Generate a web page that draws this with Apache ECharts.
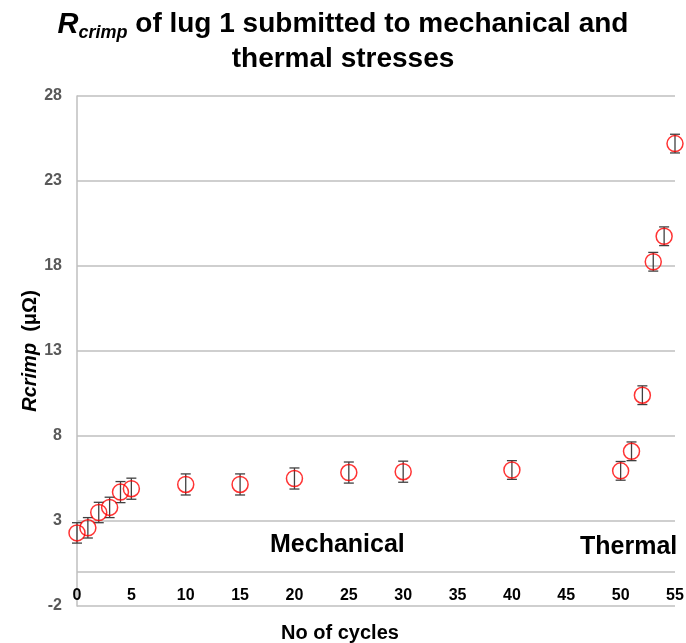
<!DOCTYPE html>
<html>
<head>
<meta charset="utf-8">
<script src="https://cdn.jsdelivr.net/npm/echarts@6/dist/echarts.min.js"></script>
<style>html,body{margin:0;padding:0;background:#fff}#c{width:686px;height:643px}</style>
</head>
<body>
<div id="c"></div>
<script>
const cycles = [0, 1, 2, 3, 4, 5, 10, 15, 20, 25, 30, 40, 50, 51, 52, 53, 54, 55];
const rcrimp = [2.3, 2.6, 3.5, 3.8, 4.7, 4.9, 5.15, 5.15, 5.5, 5.85, 5.9, 6.0, 5.95, 7.1, 10.4, 18.25, 19.75, 25.2];
const errs   = [0.6, 0.6, 0.6, 0.6, 0.62, 0.62, 0.62, 0.62, 0.62, 0.62, 0.62, 0.55, 0.55, 0.55, 0.55, 0.55, 0.55, 0.55];
const yTicks = [-2, 3, 8, 13, 18, 23, 28];
const xTicks = [0, 5, 10, 15, 20, 25, 30, 35, 40, 45, 50, 55];

const FONT = "'Liberation Sans', Arial, sans-serif";
const points = cycles.map((c, i) => [c, rcrimp[i]]);
const errData = cycles.map((c, i) => [c, rcrimp[i] - errs[i], rcrimp[i] + errs[i]]);

const chart = echarts.init(document.getElementById('c'), null, {renderer: 'canvas'});
chart.setOption({
  animation: false,
  backgroundColor: '#fff',
  title: {
    left: 'center',
    top: 2,
    text: '{ri|R}{sub|crimp}{n| of lug 1 submitted to mechanical and}\n{n|thermal stresses}',
    textStyle: {
      fontFamily: FONT,
      fontWeight: 'bold',
      fontSize: 28,
      lineHeight: 35,
      color: '#000',
      rich: {
        ri: {fontFamily: FONT, fontStyle: 'italic', fontWeight: 'bold', fontSize: 29, lineHeight: 35, color: '#000'},
        sub: {fontFamily: FONT, fontStyle: 'italic', fontWeight: 'bold', fontSize: 18, verticalAlign: 'bottom', color: '#000'},
        n: {fontFamily: FONT, fontWeight: 'bold', fontSize: 28, lineHeight: 35, color: '#000'}
      }
    }
  },
  grid: {left: 77, right: 11, top: 96, bottom: 37, containLabel: false, outerBoundsMode: 'none'},
  xAxis: {
    type: 'value',
    min: xTicks[0],
    max: xTicks[xTicks.length - 1],
    interval: 5,
    name: 'No of cycles',
    nameLocation: 'middle',
    nameGap: 17,
    nameMoveOverlap: false,
    nameTextStyle: {fontFamily: FONT, fontWeight: 'bold', fontSize: 20, color: '#000', padding: [0, 72, 0, 0]},
    axisLine: {show: false, onZero: false},
    axisTick: {show: false},
    splitLine: {show: false},
    axisLabel: {fontFamily: FONT, fontWeight: 'bold', fontSize: 16, color: '#000', margin: -18}
  },
  yAxis: {
    type: 'value',
    min: yTicks[0],
    max: yTicks[yTicks.length - 1],
    interval: 5,
    name: '{i|Rcrimp}{n|  (μΩ)}',
    nameLocation: 'middle',
    nameGap: 37,
    nameMoveOverlap: false,
    nameTextStyle: {
      rich: {
        i: {fontFamily: FONT, fontStyle: 'italic', fontWeight: 'bold', fontSize: 20, color: '#000'},
        n: {fontFamily: FONT, fontWeight: 'bold', fontSize: 20, color: '#000'}
      }
    },
    axisLine: {show: true, onZero: false, lineStyle: {color: '#bfbfbf', width: 1.5}},
    axisTick: {show: false},
    splitLine: {show: true, lineStyle: {color: '#bfbfbf', width: 1.5}},
    axisLabel: {fontFamily: FONT, fontWeight: 'bold', fontSize: 16, color: '#595959', margin: 15}
  },
  graphic: [
    {type: 'text', left: 270, top: 533, style: {text: 'Mechanical', font: 'bold 25px ' + FONT, fill: '#000'}},
    {type: 'text', left: 580, top: 535, style: {text: 'Thermal', font: 'bold 25px ' + FONT, fill: '#000'}}
  ],
  series: [
    {
      type: 'custom',
      name: 'error',
      data: errData,
      z: 3,
      renderItem: function (params, api) {
        const x = api.value(0);
        const lo = api.coord([x, api.value(1)]);
        const hi = api.coord([x, api.value(2)]);
        const w = 5;
        const st = {stroke: '#404040', lineWidth: 1.3};
        return {
          type: 'group',
          children: [
            {type: 'line', shape: {x1: lo[0], y1: lo[1], x2: hi[0], y2: hi[1]}, style: st},
            {type: 'line', shape: {x1: lo[0] - w, y1: lo[1], x2: lo[0] + w, y2: lo[1]}, style: st},
            {type: 'line', shape: {x1: hi[0] - w, y1: hi[1], x2: hi[0] + w, y2: hi[1]}, style: st}
          ]
        };
      }
    },
    {
      type: 'scatter',
      name: 'Rcrimp',
      data: points,
      z: 4,
      symbol: 'circle',
      symbolSize: 16,
      itemStyle: {color: 'rgba(255,255,255,0)', borderColor: '#ff0000', borderWidth: 1.5},
      markLine: {
        silent: true,
        symbol: ['none', 'none'],
        label: {show: false},
        lineStyle: {color: '#bfbfbf', width: 1.5, type: 'solid'},
        data: [{yAxis: 0}]
      }
    }
  ]
});
</script>
</body>
</html>
